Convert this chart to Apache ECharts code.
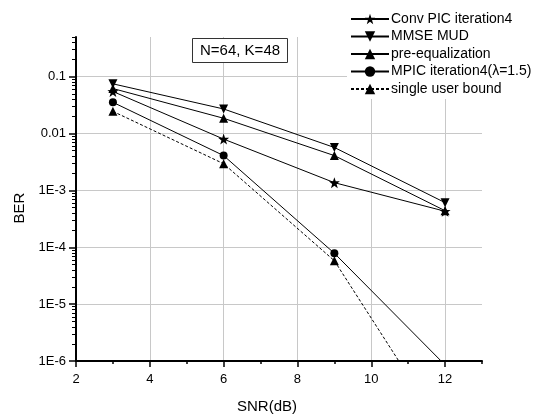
<!DOCTYPE html>
<html>
<head>
<meta charset="utf-8">
<script src="https://cdn.jsdelivr.net/npm/echarts@6/dist/echarts.min.js"></script>
<style>html,body{margin:0;padding:0;background:#fff;}#c{width:551px;height:414px;}</style>
</head>
<body>
<div id="c"></div>
<script>
const snr = [3, 6, 9, 12];
const convPIC = [0.055, 0.0080, 0.00137, 0.00043];
const mmseMUD = [0.075, 0.0271, 0.0057, 0.00061];
const preEq = [0.062, 0.0186, 0.0041, 0.00044];
const mpic = [0.0355, 0.0041, 0.0000785, 0.00000085];
const singleUser = [0.0246, 0.00295, 0.000058, 0.000000054];
const seriesNames = ['Conv PIC iteration4', 'MMSE MUD', 'pre-equalization', 'MPIC iteration4(\u03bb=1.5)', 'single user bound'];
const yLabelMap = {'0.1': '0.1', '0.01': '0.01', '0.001': '1E-3', '0.0001': '1E-4', '0.00001': '1E-5', '0.000001': '1E-6'};
const xMinorTicks = [3, 5, 7, 9, 11, 13];
const yMinorTicks = [];
[1e-6, 1e-5, 1e-4, 1e-3, 1e-2, 1e-1].forEach(function (d) {
  for (let k = 2; k <= 9; k++) { const v = +(d * k).toPrecision(3); if (v <= 0.5) yMinorTicks.push(v); }
});

const star = 'path://M0,-10 L2.35,-3.24 9.51,-3.09 3.8,1.24 5.88,8.09 0,4 -5.88,8.09 -3.8,1.24 -9.51,-3.09 -2.35,-3.24 Z';
function pairs(ys) { return snr.map(function (x, i) { return [x, ys[i]]; }); }
const font = 'Liberation Sans, Arial, sans-serif';
const chart = echarts.init(document.getElementById('c'), null, {renderer: 'canvas'});
const base = {type: 'line', lineStyle: {color: '#000', width: 1}, itemStyle: {color: '#000'}, clip: true, z: 3};
chart.setOption({
  animation: false,
  backgroundColor: '#fff',
  title: {
    text: 'N=64, K=48', left: 192, top: 38,
    padding: [4, 8, 4, 8], borderWidth: 1, borderColor: '#333', backgroundColor: '#fff',
    textStyle: {fontSize: 15, fontWeight: 'normal', color: '#000', fontFamily: font, lineHeight: 17}
  },
  legend: {
    orient: 'vertical', left: 347, top: 9, padding: [3, 10, 3, 3],
    backgroundColor: '#fff', itemWidth: 38, itemHeight: 13, itemGap: 3.5,
    textStyle: {fontSize: 14, color: '#000', fontFamily: font, lineHeight: 13, padding: [0, 0, 0, -3]},
    data: seriesNames, z: 10
  },
  grid: {left: 76, right: 69, top: 37, bottom: 53, outerBoundsMode: 'none'},
  xAxis: [{
    type: 'value', min: 2, max: 13, interval: 2, position: 'bottom',
    name: 'SNR(dB)', nameLocation: 'middle', nameGap: 38,
    nameTextStyle: {fontSize: 15, color: '#000', fontFamily: font, padding: [0, 24, 0, 0]},
    axisLine: {show: true, onZero: false, lineStyle: {color: '#000', width: 2}},
    axisTick: {show: true, inside: false, length: 6, lineStyle: {color: '#000', width: 1.5}},
    axisLabel: {fontSize: 13, color: '#000', margin: 12, showMaxLabel: false, fontFamily: font},
    splitLine: {show: true, showMinLine: false, showMaxLine: false, lineStyle: {color: '#c8c8c8', width: 1}}
  }, {
    type: 'value', min: 2, max: 13, position: 'bottom',
    axisLine: {show: false}, axisLabel: {show: false}, splitLine: {show: false},
    axisTick: {show: true, inside: false, length: 3, customValues: xMinorTicks, lineStyle: {color: '#000', width: 1.5}}
  }],
  yAxis: [{
    type: 'log', logBase: 10, min: 1e-6, max: 0.5, interval: 1, position: 'left',
    name: 'BER', nameLocation: 'middle', nameGap: 40,
    nameTextStyle: {fontSize: 15, color: '#000', fontFamily: font, padding: [0, 18, 0, 0]},
    axisLine: {show: true, onZero: false, lineStyle: {color: '#000', width: 2}},
    axisTick: {show: true, inside: false, length: 7, lineStyle: {color: '#000', width: 1.5}},
    axisLabel: {
      fontSize: 13, color: '#000', margin: 10, showMaxLabel: false, fontFamily: font,
      formatter: function (v) {
        const key = String(+v.toPrecision(3));
        return yLabelMap[key] !== undefined ? yLabelMap[key] : '';
      }
    },
    splitLine: {show: true, showMinLine: false, showMaxLine: false, lineStyle: {color: '#c8c8c8', width: 1}}
  }, {
    type: 'log', logBase: 10, min: 1e-6, max: 0.5, position: 'left',
    axisLine: {show: false}, axisLabel: {show: false}, splitLine: {show: false},
    axisTick: {show: true, inside: false, length: 4, customValues: yMinorTicks, lineStyle: {color: '#000', width: 1}}
  }],
  series: [
    Object.assign({}, base, {name: seriesNames[0], data: pairs(convPIC), symbol: star, symbolSize: 11}),
    Object.assign({}, base, {name: seriesNames[1], data: pairs(mmseMUD), symbol: 'triangle', symbolRotate: 180, symbolSize: 9}),
    Object.assign({}, base, {name: seriesNames[2], data: pairs(preEq), symbol: 'triangle', symbolSize: 9}),
    Object.assign({}, base, {name: seriesNames[3], data: pairs(mpic), symbol: 'circle', symbolSize: 8}),
    Object.assign({}, base, {name: seriesNames[4], data: pairs(singleUser), symbol: 'triangle', symbolSize: 9,
      lineStyle: {color: '#000', width: 1, type: [3, 2]}})
  ]
});
</script>
</body>
</html>
